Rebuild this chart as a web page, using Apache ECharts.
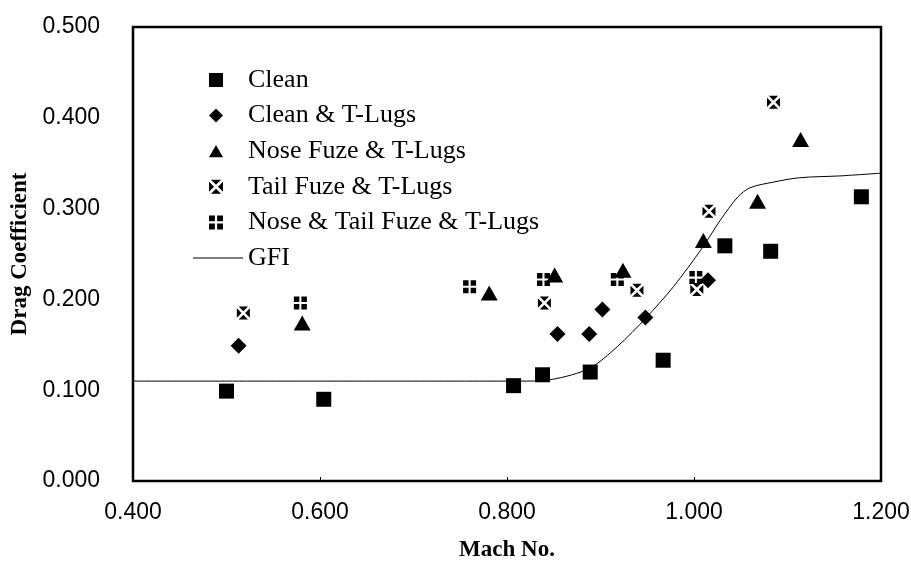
<!DOCTYPE html>
<html><head><meta charset="utf-8">
<script src="https://cdn.jsdelivr.net/npm/echarts@6/dist/echarts.min.js"></script>
<style>html,body{margin:0;padding:0;background:#fff}#c{width:911px;height:573px}</style>
</head><body><div id="c"></div>
<script>
// ---- data ----
const seriesNames = ['Clean', 'Clean & T-Lugs', 'Nose Fuze & T-Lugs', 'Tail Fuze & T-Lugs', 'Nose & Tail Fuze & T-Lugs', 'GFI'];
const cleanData = [[0.500,0.099],[0.604,0.090],[0.807,0.105],[0.838,0.117],[0.889,0.120],[0.967,0.133],[1.033,0.259],[1.082,0.253],[1.179,0.313]];
const cleanTLugsData = [[0.513,0.149],[0.854,0.162],[0.888,0.162],[0.902,0.189],[0.948,0.180],[1.015,0.221]];
const noseFuzeData = [[0.581,0.174],[0.781,0.207],[0.851,0.227],[0.924,0.232],[1.010,0.265],[1.068,0.308],[1.114,0.376]];
const tailFuzeData = [[0.518,0.185],[0.840,0.196],[0.939,0.210],[1.003,0.211],[1.016,0.297],[1.085,0.417]];
const noseTailData = [[0.579,0.196],[0.760,0.214],[0.839,0.222],[0.918,0.222],[1.002,0.224]];
const gfiData = [[0.400,0.110],[0.817,0.110],[0.849,0.112],[0.888,0.124],[0.918,0.148],[0.949,0.180],[0.978,0.214],[1.009,0.257],[1.028,0.287],[1.047,0.313],[1.060,0.323],[1.084,0.329],[1.113,0.334],[1.156,0.336],[1.200,0.339]];
const xTicks = {min: 0.4, max: 1.2, interval: 0.2};
const yTicks = {min: 0.0, max: 0.5, interval: 0.1};

// ---- symbols ----
const squareSymbol = 'path://M0,0 L100,0 L100,100 L0,100 Z';
const diamondSymbol = 'path://M50,0 L100,50 L50,100 L0,50 Z';
const triangleSymbol = 'path://M50,0 L100,88 L0,88 Z';
const tailFuzeSymbol = 'path://M14,0 L86,0 L50,36 Z M14,100 L86,100 L50,64 Z M0,14 L0,86 L36,50 Z M100,14 L100,86 L64,50 Z';
const noseTailSymbol = 'path://M0,0 L42,0 L42,42 L0,42 Z M58,0 L100,0 L100,42 L58,42 Z M0,58 L42,58 L42,100 L0,100 Z M58,58 L100,58 L100,100 L58,100 Z';
const lineIcon = 'path://M0,0 L100,0 L100,2 L0,2 Z';
const symbols = [squareSymbol, diamondSymbol, triangleSymbol, tailFuzeSymbol, noseTailSymbol];

const chart = echarts.init(document.getElementById('c'), null, {renderer: 'canvas'});
const serif = '"Liberation Serif", "Times New Roman", serif';
const sans = '"Liberation Sans", Arial, sans-serif';
const blk = {color: '#000', opacity: 1};

function scatter(name, data, symbol, size) {
  return {name, type: 'scatter', data, symbol, symbolSize: size, symbolKeepAspect: false, itemStyle: blk, z: 3, animation: false};
}

chart.setOption({
  animation: false,
  backgroundColor: '#fff',
  grid: {left: 133, right: 30, top: 27, bottom: 92, show: true, borderColor: '#000', borderWidth: 2.5,
         backgroundColor: 'transparent', containLabel: false, outerBoundsMode: 'none'},
  xAxis: {
    type: 'value', min: xTicks.min, max: xTicks.max, interval: xTicks.interval,
    name: 'Mach No.', nameLocation: 'middle', nameGap: 58,
    nameTextStyle: {fontFamily: serif, fontWeight: 'bold', fontSize: 23, color: '#000'},
    axisLine: {show: false}, splitLine: {show: false},
    axisTick: {show: true, inside: true, length: 4, lineStyle: {color: '#000', width: 1}},
    axisLabel: {fontFamily: sans, fontSize: 23, color: '#000', margin: 20, formatter: v => v.toFixed(3)}
  },
  yAxis: {
    type: 'value', min: yTicks.min, max: yTicks.max, interval: yTicks.interval,
    name: 'Drag Coefficient', nameLocation: 'middle', nameGap: 101, nameRotate: 90,
    nameTextStyle: {fontFamily: serif, fontWeight: 'bold', fontSize: 23, color: '#000'},
    axisLine: {show: false}, splitLine: {show: false}, axisTick: {show: false},
    axisLabel: {fontFamily: sans, fontSize: 23, color: '#000', margin: 33, formatter: v => v.toFixed(3)}
  },
  legend: [
    {
      data: seriesNames.slice(0, 5).map((n, i) => ({name: n, icon: symbols[i]})),
      orient: 'vertical', left: 204, top: 62,
      itemWidth: 14, itemHeight: 14, itemGap: 9.6, symbolKeepAspect: true, selectedMode: false,
      itemStyle: {color: '#000', opacity: 1},
      textStyle: {fontFamily: serif, fontSize: 26, color: '#000', lineHeight: 26, padding: [0, 0, 0, 20]}
    },
    {
      data: [{name: seriesNames[5], icon: lineIcon}], orient: 'vertical', left: 188, top: 240,
      itemWidth: 50, itemHeight: 26, symbolKeepAspect: true, selectedMode: false,
      itemStyle: {color: '#000', opacity: 1},
      textStyle: {fontFamily: serif, fontSize: 26, color: '#000', lineHeight: 26}
    }
  ],
  series: [
    {name: seriesNames[5], type: 'line', data: gfiData, smooth: 0.3, symbol: 'none', showSymbol: false,
     lineStyle: {color: '#000', width: 1}, itemStyle: blk, z: 2},
    scatter(seriesNames[0], cleanData, squareSymbol, 15),
    scatter(seriesNames[1], cleanTLugsData, diamondSymbol, 16),
    scatter(seriesNames[2], noseFuzeData, triangleSymbol, [17, 15]),
    scatter(seriesNames[3], tailFuzeData, tailFuzeSymbol, 13),
    scatter(seriesNames[4], noseTailData, noseTailSymbol, 13)
  ]
});
</script></body></html>
